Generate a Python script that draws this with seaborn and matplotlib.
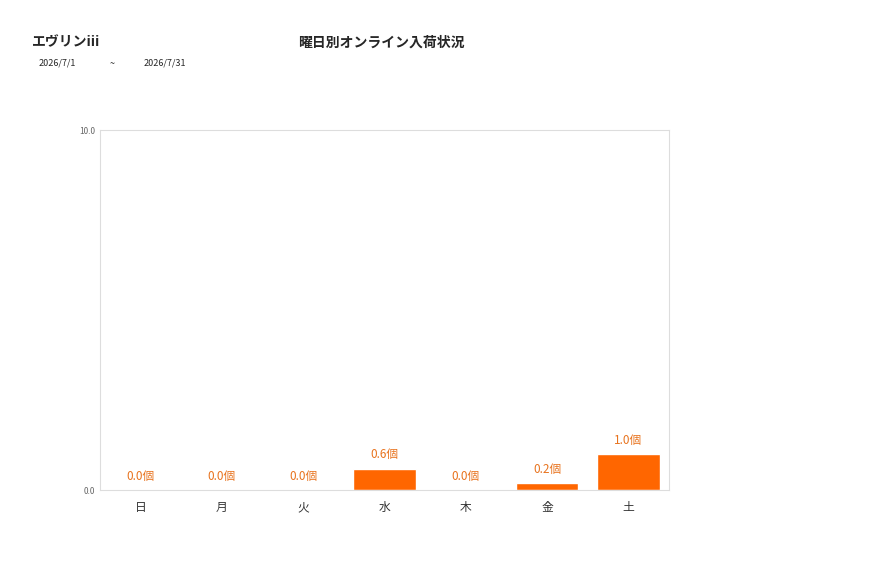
import matplotlib
matplotlib.use("Agg")
import matplotlib.pyplot as plt
import seaborn as sns
import pandas as pd

# data
days = ["日", "月", "火", "水", "木", "金", "土"]
values = [0.0, 0.0, 0.0, 0.6, 0.0, 0.2, 1.0]

sns.set_style("white")
plt.rcParams['font.family'] = ['Noto Sans CJK JP', 'DejaVu Sans']

df = pd.DataFrame({"day": days, "value": values})

fig = plt.figure(figsize=(8.77, 5.78), dpi=100)
ax = fig.add_axes([0.114, 0.152, 0.649, 0.623])
sns.barplot(data=df, x="day", y="value", color="#FF6600", saturation=1, width=0.77, ax=ax)

for i, v in enumerate(values):
    ax.text(i, v + 0.2, f"{v:.1f}個", ha="center", va="bottom", color="#E8731E", fontsize=8.5)

ax.set_ylim(0, 10)
ax.set_yticks([0, 10])
ax.set_yticklabels(["0.0", "10.0"], fontsize=6, color="#666666")
ax.tick_params(axis="x", labelsize=8.5, colors="#333333", length=0, pad=8)
ax.tick_params(axis="y", length=0)
ax.set_xlabel("")
ax.set_ylabel("")
for s in ax.spines.values():
    s.set_color("#DDDDDD")

fig.text(0.036, 0.92, "エヴリンiii", fontsize=10, fontweight="bold")
fig.text(0.044, 0.886, "2026/7/1", fontsize=6.5)
fig.text(0.125, 0.886, "~", fontsize=6.5)
fig.text(0.164, 0.886, "2026/7/31", fontsize=6.5)
fig.text(0.435, 0.92, "曜日別オンライン入荷状況", ha="center", fontsize=10, fontweight="bold")

fig.savefig("out.png", dpi=100)
